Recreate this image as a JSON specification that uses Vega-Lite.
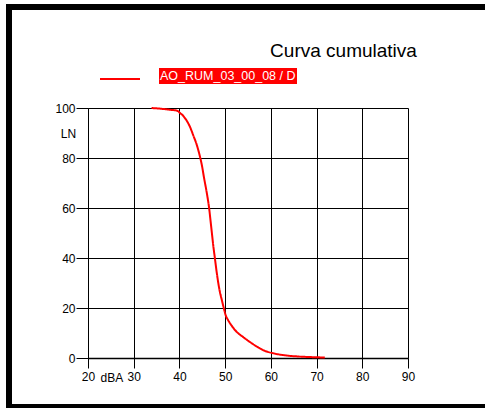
{
  "$schema": "https://vega.github.io/schema/vega-lite/v6.json",
  "width": 485,
  "height": 400,
  "autosize": {"type": "none"},
  "padding": {"left": 9, "top": 7, "right": -9, "bottom": 1},
  "background": "white",
  "config": {
    "view": {"stroke": "black", "strokeWidth": 6, "fill": "white"},
    "font": "Liberation Sans",
    "axis": {"labelFont": "Liberation Sans", "titleFont": "Liberation Sans"}
  },
  "title": {
    "text": "Curva cumulativa",
    "fontSize": 19,
    "fontWeight": "normal",
    "color": "black",
    "font": "Liberation Sans",
    "anchor": "middle",
    "frame": "group",
    "baseline": "alphabetic",
    "dx": 92,
    "offset": -69
  },
  "data": {
    "values": [
      {"dBA": 33.9, "LN": 100, "series": "AO_RUM_03_00_08 / D"},
      {"dBA": 36, "LN": 99.7, "series": "AO_RUM_03_00_08 / D"},
      {"dBA": 38, "LN": 99.3, "series": "AO_RUM_03_00_08 / D"},
      {"dBA": 39.5, "LN": 98.9, "series": "AO_RUM_03_00_08 / D"},
      {"dBA": 40.2, "LN": 97.9, "series": "AO_RUM_03_00_08 / D"},
      {"dBA": 40.85, "LN": 96.8, "series": "AO_RUM_03_00_08 / D"},
      {"dBA": 41.6, "LN": 94.9, "series": "AO_RUM_03_00_08 / D"},
      {"dBA": 42.3, "LN": 92.5, "series": "AO_RUM_03_00_08 / D"},
      {"dBA": 43, "LN": 89.2, "series": "AO_RUM_03_00_08 / D"},
      {"dBA": 43.8, "LN": 85.2, "series": "AO_RUM_03_00_08 / D"},
      {"dBA": 44.5, "LN": 80.5, "series": "AO_RUM_03_00_08 / D"},
      {"dBA": 44.9, "LN": 77.2, "series": "AO_RUM_03_00_08 / D"},
      {"dBA": 45.4, "LN": 71.9, "series": "AO_RUM_03_00_08 / D"},
      {"dBA": 46, "LN": 65.9, "series": "AO_RUM_03_00_08 / D"},
      {"dBA": 46.5, "LN": 59.9, "series": "AO_RUM_03_00_08 / D"},
      {"dBA": 46.8, "LN": 55, "series": "AO_RUM_03_00_08 / D"},
      {"dBA": 47.1, "LN": 50, "series": "AO_RUM_03_00_08 / D"},
      {"dBA": 47.4, "LN": 45, "series": "AO_RUM_03_00_08 / D"},
      {"dBA": 47.75, "LN": 40, "series": "AO_RUM_03_00_08 / D"},
      {"dBA": 48.1, "LN": 35, "series": "AO_RUM_03_00_08 / D"},
      {"dBA": 48.5, "LN": 30, "series": "AO_RUM_03_00_08 / D"},
      {"dBA": 48.9, "LN": 26, "series": "AO_RUM_03_00_08 / D"},
      {"dBA": 49.3, "LN": 23, "series": "AO_RUM_03_00_08 / D"},
      {"dBA": 49.7, "LN": 20, "series": "AO_RUM_03_00_08 / D"},
      {"dBA": 50.1, "LN": 17.2, "series": "AO_RUM_03_00_08 / D"},
      {"dBA": 50.7, "LN": 15, "series": "AO_RUM_03_00_08 / D"},
      {"dBA": 51.4, "LN": 13, "series": "AO_RUM_03_00_08 / D"},
      {"dBA": 52.5, "LN": 10.5, "series": "AO_RUM_03_00_08 / D"},
      {"dBA": 54, "LN": 8.3, "series": "AO_RUM_03_00_08 / D"},
      {"dBA": 55.5, "LN": 6.3, "series": "AO_RUM_03_00_08 / D"},
      {"dBA": 57, "LN": 4.5, "series": "AO_RUM_03_00_08 / D"},
      {"dBA": 58.5, "LN": 3, "series": "AO_RUM_03_00_08 / D"},
      {"dBA": 60.5, "LN": 1.9, "series": "AO_RUM_03_00_08 / D"},
      {"dBA": 63, "LN": 1.1, "series": "AO_RUM_03_00_08 / D"},
      {"dBA": 66, "LN": 0.6, "series": "AO_RUM_03_00_08 / D"},
      {"dBA": 69, "LN": 0.35, "series": "AO_RUM_03_00_08 / D"},
      {"dBA": 71.8, "LN": 0.2, "series": "AO_RUM_03_00_08 / D"}
    ]
  },
  "mark": {"type": "line", "strokeWidth": 2, "interpolate": "monotone"},
  "encoding": {
    "x": {
      "field": "dBA",
      "type": "quantitative",
      "scale": {"domain": [20, 90], "range": [79, 399], "nice": false, "zero": false},
      "axis": {
        "orient": "top",
        "offset": -351,
        "values": [20, 30, 40, 50, 60, 70, 80, 90],
        "grid": true,
        "gridColor": "black",
        "gridOpacity": 1,
        "gridWidth": 1,
        "domain": true,
        "domainColor": "black",
        "domainWidth": 1.5,
        "ticks": true,
        "tickColor": "black",
        "tickSize": -10,
        "tickWidth": 1,
        "labelFlush": false,
        "labelBaseline": "top",
        "labelPadding": -3,
        "labelFontSize": 12,
        "labelColor": "black",
        "title": "dBA",
        "titleX": 102.3,
        "titleY": 19,
        "titleAlign": "center",
        "titleBaseline": "middle",
        "titleAngle": 0,
        "titleFontSize": 12,
        "titleFontWeight": "normal",
        "titleColor": "black"
      }
    },
    "y": {
      "field": "LN",
      "type": "quantitative",
      "scale": {"domain": [0, 100], "range": [351, 101], "nice": false, "zero": false},
      "axis": {
        "orient": "left",
        "offset": -79,
        "values": [0, 20, 40, 60, 80, 100],
        "grid": true,
        "gridColor": "black",
        "gridOpacity": 1,
        "gridWidth": 1,
        "domain": true,
        "domainColor": "black",
        "domainWidth": 1,
        "tickColor": "black",
        "tickSize": 12,
        "tickWidth": 1,
        "labelFlush": false,
        "labelPadding": 1,
        "labelFontSize": 12,
        "labelColor": "black",
        "title": "LN",
        "titleX": -20,
        "titleY": 126,
        "titleAlign": "center",
        "titleBaseline": "middle",
        "titleAngle": 0,
        "titleFontSize": 12,
        "titleFontWeight": "normal",
        "titleColor": "black"
      }
    },
    "color": {
      "field": "series",
      "type": "nominal",
      "scale": {"domain": ["AO_RUM_03_00_08 / D"], "range": ["#ff0000"]},
      "legend": {
        "title": null,
        "orient": "none",
        "legendX": 90,
        "legendY": 51,
        "padding": 0,
        "symbolType": "stroke",
        "symbolSize": 1600,
        "symbolStrokeWidth": 2,
        "labelExpr": "''"
      }
    },
    "strokeDash": {
      "field": "series",
      "type": "nominal",
      "scale": {"range": [[1, 0]]},
      "legend": {
        "title": null,
        "orient": "none",
        "legendX": 150,
        "legendY": 61,
        "padding": 1.5,
        "fillColor": "#ff0000",
        "symbolSize": 0.01,
        "symbolOpacity": 0,
        "symbolStrokeWidth": 0.01,
        "labelOffset": -13,
        "labelColor": "white",
        "labelFontSize": 12.5,
        "labelFont": "Liberation Sans"
      }
    }
  }
}
